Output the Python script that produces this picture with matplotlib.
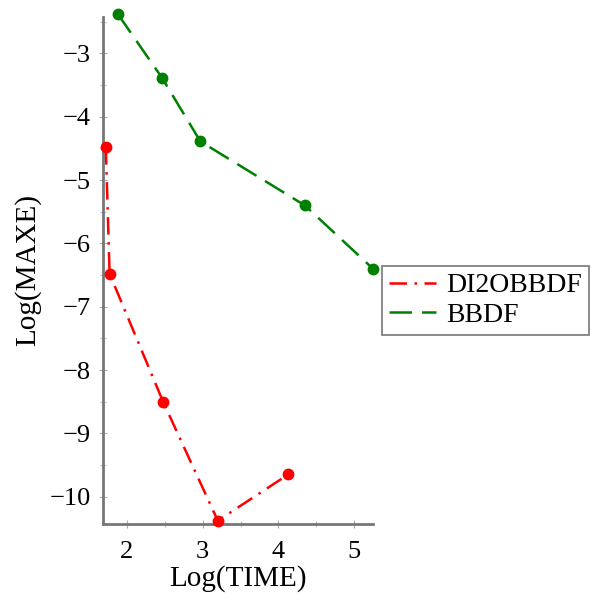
import matplotlib
matplotlib.use("Agg")
import matplotlib.pyplot as plt
from matplotlib.ticker import MultipleLocator, FuncFormatter

plt.rcParams['font.family'] = ['Liberation Serif', 'DejaVu Serif']

red_x = [1.72, 1.77, 2.48, 3.20, 4.13]
red_y = [-4.48, -6.48, -8.51, -10.38, -9.65]
green_x = [1.88, 2.46, 2.97, 4.35, 5.25]
green_y = [-2.38, -3.38, -4.39, -5.40, -6.40]
labels = ["DI2OBBDF", "BBDF"]

fig = plt.figure(figsize=(5.92, 5.98), dpi=100)
ax = fig.add_axes([0.174, 0.124, 0.456, 0.848])

ax.plot(red_x, red_y, color='#ff0000', lw=1.8, dashes=(7, 3, 1, 3),
        marker='o', ms=7.5, label=labels[0], clip_on=False, zorder=3)
ax.plot(green_x, green_y, color='#008000', lw=1.8, dashes=(9, 4),
        marker='o', ms=7.5, label=labels[1], clip_on=False, zorder=3)

ax.set_xlim(1.683, 5.25)
ax.set_ylim(-10.43, -2.42)
ax.xaxis.set_major_locator(MultipleLocator(1))
ax.xaxis.set_minor_locator(MultipleLocator(0.5))
ax.yaxis.set_major_locator(MultipleLocator(1))
ax.yaxis.set_minor_locator(MultipleLocator(0.5))

for s in ['top', 'right']:
    ax.spines[s].set_visible(False)
for s in ['left', 'bottom']:
    ax.spines[s].set_color('#777777')
    ax.spines[s].set_linewidth(2)

ax.tick_params(which='major', length=6, width=0.8, color='#aaaaaa',
               labelsize=19, direction='inout')
ax.tick_params(axis='x', which='major', pad=9)
ax.tick_params(axis='y', which='major', pad=6)
ax.tick_params(which='minor', length=4, width=0.8, color='#bbbbbb', direction='inout')
ax.yaxis.set_major_formatter(FuncFormatter(
    lambda v, p: '\u2212' + str(int(round(abs(v)))) if v < 0 else str(int(round(v)))))

ax.set_xlabel('Log(TIME)', fontsize=21, labelpad=2)
ax.set_ylabel('Log(MAXE)', fontsize=21, labelpad=6)

leg = fig.legend(loc='upper left', bbox_to_anchor=(0.645, 0.555),
                 fontsize=20, frameon=True, fancybox=False, handlelength=1.7,
                 handletextpad=0.35, borderpad=0.25, labelspacing=0.15,
                 borderaxespad=0)
leg.get_frame().set_edgecolor('#555555')
leg.get_frame().set_linewidth(1.2)
for h in leg.legend_handles:
    h.set_marker('')

fig.savefig('out.png', dpi=100)
